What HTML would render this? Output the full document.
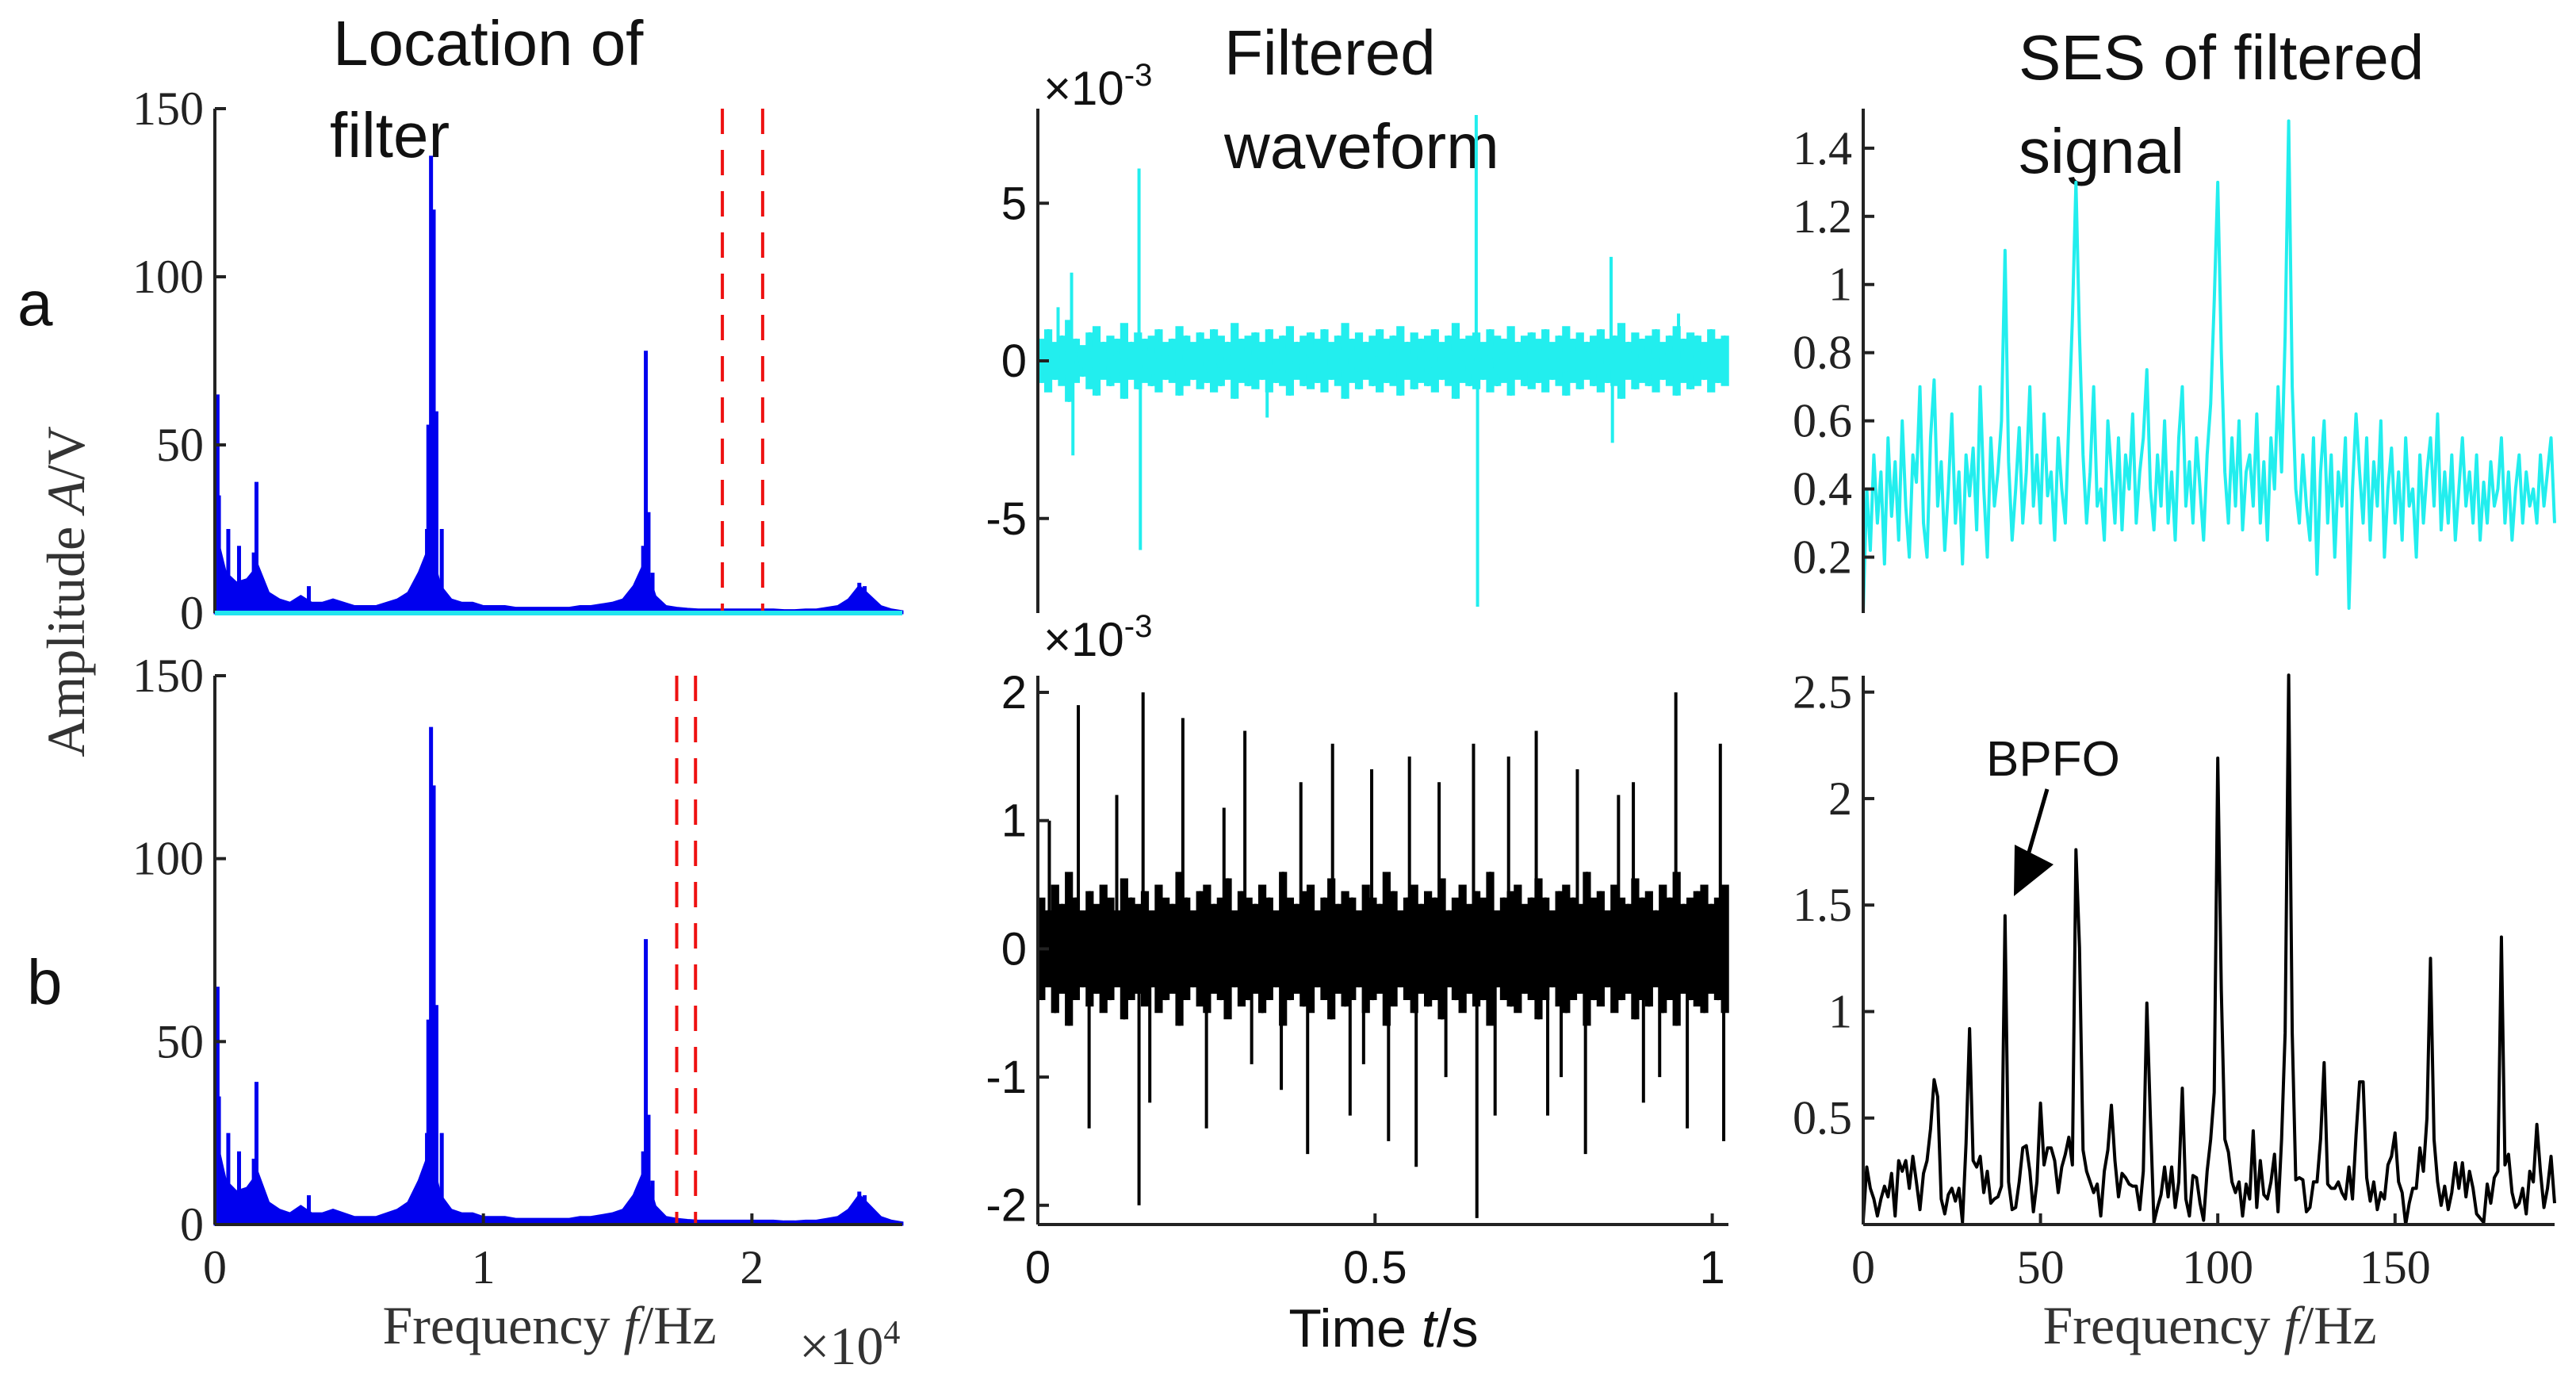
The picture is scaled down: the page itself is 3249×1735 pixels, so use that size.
<!DOCTYPE html>
<html><head><meta charset="utf-8"><style>
html,body{margin:0;padding:0;background:#fff;}
svg{display:block;}
.tk{font-family:"Liberation Serif",serif;font-size:60px;fill:#222;}
.sn{font-family:"Liberation Sans",sans-serif;fill:#111;}
.lb{font-family:"Liberation Serif",serif;font-size:68px;fill:#333;}
</style></head><body>
<svg id="fig" width="3249" height="1735" viewBox="0 0 3249 1735" xmlns="http://www.w3.org/2000/svg">
<text class="sn" x="420" y="82" font-size="80">Location of</text>
<text class="sn" x="416" y="198" font-size="80">filter</text>
<text class="sn" x="1544" y="94" font-size="80">Filtered</text>
<text class="sn" x="1544" y="212" font-size="80">waveform</text>
<text class="sn" x="2546" y="100" font-size="80">SES of filtered</text>
<text class="sn" x="2546" y="218" font-size="80">signal</text>
<text class="sn" x="22" y="410" font-size="80">a</text>
<text class="sn" x="34" y="1266" font-size="80">b</text>
<text class="lb" transform="translate(106,746) rotate(-90)" text-anchor="middle">Amplitude <tspan font-style="italic">A</tspan>/V</text>
<text class="lb" x="693" y="1694" text-anchor="middle">Frequency <tspan font-style="italic">f</tspan>/Hz</text>
<text class="lb" x="1008" y="1720">×10<tspan font-size="42" dy="-26">4</tspan></text>
<text class="sn" x="1745" y="1698" font-size="68" text-anchor="middle">Time <tspan font-style="italic">t</tspan>/s</text>
<text class="lb" x="2787" y="1694" text-anchor="middle">Frequency <tspan font-style="italic">f</tspan>/Hz</text>
<text class="sn" x="1316" y="132" font-size="60">×10<tspan font-size="40" dy="-24">-3</tspan></text>
<text class="sn" x="1316" y="827" font-size="60">×10<tspan font-size="40" dy="-24">-3</tspan></text>
<text class="sn" x="2505" y="978" font-size="62">BPFO</text>
</svg>
<script>
// ---- data ----
const specBaseFreq = [0,400,800,1200,1600,2000,2400,2800,3200,3600,4000,4400,4800,5200,5600,6000,6400,6800,7200,7600,8000,8400,8800,9200,9600,10000,10400,10800,11200,11600,12000,12400,12800,13200,13600,14000,14400,14800,15200,15600,16000,16400,16800,17200,17600,18000,18400,18800,19200,19600,20000,20400,20800,21200,21600,22000,22400,22800,23200,23600,24000,24400,24800,25200,25600];
const specBaseAmp = [25,12,9,10,14,6,4,3,5,3,3,4,3,2,2,2,3,4,6,12,20,8,4,3,3,2,2,2,1.5,1.5,1.5,1.5,1.5,1.5,2,2,2.5,3,4,8,15,5,2,1.5,1.2,1,1,1,1,1,1,1,1,0.8,0.8,1,1,1.5,2,4,8,5,2,1,0.5];
const specPeakFreq = [100,150,500,900,1450,1550,3500,7900,7950,8050,8150,8250,8450,15950,16050,16150,16300,24000,24200];
const specPeakAmp = [65,35,25,20,18,39,8,25,56,136,120,60,25,20,78,30,12,9,8];
const filterA = [18900,20400];
const filterB = [17200,17900];
const waveAEnv = [0.7,1.0,0.6,0.8,1.3,0.7,0.5,0.9,1.1,0.6,0.8,0.7,1.2,0.6,0.9,0.7,0.8,1.0,0.6,0.7,1.1,0.8,0.6,0.9,0.7,1.0,0.8,0.6,1.2,0.7,0.8,0.9,0.6,1.0,0.7,0.8,1.1,0.6,0.8,0.9,0.7,1.0,0.6,0.8,1.2,0.7,0.9,0.6,0.8,1.0,0.7,0.8,1.1,0.6,0.9,0.7,0.8,1.0,0.6,0.8,1.2,0.7,0.8,0.9,0.6,1.0,0.8,0.7,1.1,0.6,0.8,0.9,0.7,1.0,0.6,0.8,1.1,0.7,0.9,0.6,0.8,1.0,0.7,0.8,1.2,0.6,0.9,0.7,0.8,1.0,0.6,0.8,1.1,0.7,0.9,0.8,0.6,1.0,0.7,0.8];
const waveASpikeT = [0.03,0.05,0.052,0.15,0.152,0.34,0.65,0.652,0.85,0.852,0.95];
const waveASpikeV = [1.7,2.8,-3.0,6.1,-6.0,-1.8,7.8,-7.8,3.3,-2.6,1.5];
const waveBEnv = [0.4,0.3,0.5,0.35,0.6,0.4,0.3,0.45,0.35,0.5,0.4,0.3,0.55,0.4,0.35,0.45,0.3,0.5,0.4,0.35,0.6,0.4,0.3,0.45,0.5,0.35,0.4,0.55,0.3,0.45,0.4,0.35,0.5,0.4,0.3,0.6,0.4,0.35,0.45,0.5,0.3,0.4,0.55,0.35,0.45,0.4,0.3,0.5,0.4,0.35,0.6,0.45,0.3,0.4,0.5,0.35,0.45,0.4,0.55,0.3,0.4,0.5,0.35,0.45,0.4,0.6,0.3,0.4,0.45,0.5,0.35,0.4,0.55,0.4,0.3,0.45,0.5,0.4,0.35,0.6,0.4,0.45,0.3,0.5,0.4,0.35,0.55,0.4,0.45,0.3,0.5,0.4,0.6,0.35,0.4,0.45,0.5,0.35,0.4,0.5];
const waveBSpikeT = [0.017,0.06,0.076,0.117,0.15,0.156,0.166,0.215,0.25,0.276,0.307,0.317,0.361,0.39,0.4,0.437,0.463,0.483,0.495,0.52,0.551,0.561,0.595,0.605,0.646,0.651,0.678,0.698,0.739,0.756,0.776,0.8,0.812,0.861,0.883,0.898,0.922,0.946,0.963,1.012,1.017];
const waveBSpikeV = [1.0,1.9,-1.4,1.2,-2.0,2.0,-1.2,1.8,-1.4,1.1,1.7,-0.9,-1.1,1.3,-1.6,1.6,-1.3,-0.9,1.4,-1.5,1.5,-1.7,1.3,-1.0,1.6,-2.1,-1.3,1.5,1.7,-1.3,-1.0,1.4,-1.6,1.2,1.3,-1.2,-1.0,2.0,-1.4,1.6,-1.5];
const sesA = [0.04,0.40,0.22,0.50,0.30,0.45,0.18,0.55,0.32,0.48,0.25,0.60,0.35,0.20,0.50,0.42,0.70,0.30,0.20,0.55,0.72,0.35,0.48,0.22,0.40,0.62,0.30,0.45,0.18,0.50,0.38,0.52,0.28,0.70,0.40,0.20,0.55,0.35,0.45,0.60,1.10,0.48,0.25,0.40,0.58,0.30,0.45,0.70,0.35,0.50,0.30,0.62,0.38,0.45,0.25,0.55,0.40,0.30,0.60,0.90,1.30,0.85,0.50,0.30,0.45,0.70,0.35,0.40,0.25,0.60,0.45,0.30,0.55,0.28,0.50,0.40,0.62,0.30,0.45,0.55,0.75,0.40,0.28,0.50,0.35,0.60,0.30,0.45,0.25,0.55,0.70,0.35,0.48,0.30,0.55,0.40,0.25,0.50,0.65,0.95,1.30,0.80,0.45,0.30,0.55,0.35,0.60,0.28,0.45,0.50,0.35,0.62,0.30,0.48,0.25,0.55,0.40,0.70,0.45,0.85,1.48,0.70,0.40,0.30,0.50,0.35,0.25,0.55,0.15,0.45,0.60,0.30,0.50,0.20,0.45,0.35,0.55,0.05,0.40,0.62,0.45,0.30,0.55,0.25,0.48,0.35,0.60,0.20,0.40,0.52,0.30,0.45,0.25,0.55,0.35,0.40,0.20,0.50,0.30,0.45,0.55,0.35,0.62,0.28,0.45,0.30,0.50,0.25,0.40,0.55,0.35,0.45,0.30,0.50,0.25,0.42,0.30,0.48,0.35,0.40,0.55,0.30,0.45,0.25,0.40,0.50,0.30,0.45,0.35,0.40,0.30,0.50,0.35,0.45,0.55,0.30];
const sesB = [0.02,0.27,0.17,0.12,0.04,0.12,0.18,0.13,0.24,0.04,0.30,0.25,0.30,0.17,0.32,0.20,0.07,0.24,0.30,0.45,0.68,0.60,0.12,0.05,0.14,0.17,0.11,0.17,0.01,0.38,0.92,0.30,0.27,0.32,0.15,0.25,0.10,0.12,0.13,0.18,1.45,0.20,0.07,0.08,0.20,0.36,0.37,0.25,0.06,0.20,0.57,0.28,0.36,0.36,0.30,0.15,0.27,0.33,0.41,0.28,1.76,1.30,0.35,0.25,0.20,0.15,0.19,0.04,0.25,0.35,0.56,0.30,0.13,0.24,0.22,0.19,0.18,0.18,0.07,0.25,1.04,0.50,0.01,0.08,0.14,0.27,0.13,0.27,0.08,0.20,0.64,0.12,0.04,0.23,0.22,0.10,0.02,0.25,0.40,0.62,2.19,1.10,0.40,0.34,0.20,0.15,0.20,0.04,0.19,0.12,0.44,0.08,0.30,0.14,0.12,0.20,0.33,0.06,0.40,0.90,2.58,0.90,0.21,0.22,0.21,0.06,0.08,0.20,0.20,0.40,0.76,0.19,0.17,0.17,0.20,0.15,0.12,0.27,0.12,0.42,0.67,0.67,0.22,0.11,0.20,0.07,0.15,0.12,0.28,0.32,0.43,0.20,0.15,0.00,0.10,0.17,0.17,0.36,0.25,0.50,1.25,0.40,0.20,0.09,0.18,0.07,0.15,0.29,0.17,0.29,0.13,0.25,0.17,0.05,0.03,0.01,0.19,0.10,0.22,0.25,1.35,0.28,0.33,0.15,0.08,0.10,0.17,0.05,0.25,0.20,0.47,0.25,0.08,0.17,0.32,0.10];
const ticksSpecY = [0,50,100,150];
const ticksSpecX = [0,1,2];
const ticksWaveAY = [-5,0,5];
const ticksWaveBY = [-2,-1,0,1,2];
const ticksWaveX = [0,0.5,1];
const ticksSesAY = [0.2,0.4,0.6,0.8,1,1.2,1.4];
const ticksSesBY = [0.5,1,1.5,2,2.5];
const ticksSesX = [0,50,100,150];

// ---- helpers ----
const NS = "http://www.w3.org/2000/svg";
const fig = document.getElementById('fig');
function mk(tag, attrs, parent){
  const e = document.createElementNS(NS, tag);
  for (const k in attrs) e.setAttribute(k, attrs[k]);
  (parent||fig).appendChild(e);
  return e;
}
function scale(d0,d1,r0,r1){ return v => r0 + (v-d0)/(d1-d0)*(r1-r0); }

const L1=271, R1=1138, L2=1309, R2=2180, L3=2350, R3=3222;
const TA=137, BA=773, TB=852, BB=1544;

function yAxis(x, ys, ticks, top, bot, fmt, name){
  const g = mk('g', {});
  
  
  const ln = mk('line', {x1:x,y1:top,x2:x,y2:bot,stroke:'#222','stroke-width':4}, g);
  
  
  ticks.forEach(t=>{
    const y = ys(t);
    const tl = mk('line', {x1:x,y1:y,x2:x+14,y2:y,stroke:'#222','stroke-width':4}, g);
    
    
    const tx = mk('text', {x:x-14,y:y+20,'text-anchor':'end',class:fmt}, g);
    
    
    if (fmt==='sn') tx.setAttribute('font-size','58');
    tx.textContent = String(t);
  });
}
function xAxis(y, xs, ticks, left, right, fmt, name, labels){
  const g = mk('g', {});
  
  
  const ln = mk('line', {x1:left,y1:y,x2:right,y2:y,stroke:'#222','stroke-width':4}, g);
  
  
  ticks.forEach((t,i)=>{
    const x = xs(t);
    const tl = mk('line', {x1:x,y1:y,x2:x,y2:y-14,stroke:'#222','stroke-width':4}, g);
    
    
    if (labels){
      const tx = mk('text', {x:x,y:y+74,'text-anchor':'middle',class:fmt}, g);
      
      
      if (fmt==='sn') tx.setAttribute('font-size','58');
      tx.textContent = String(t);
    }
  });
}

// ---- spectrum panels ----
function spectrum(top, bot, filt, name){
  const xs = scale(0,25600,L1,R1), ys = scale(0,150,bot,top);
  let pts = xs(0)+','+ys(0)+' ';
  specBaseFreq.forEach((f,i)=>{ pts += xs(f)+','+ys(specBaseAmp[i])+' '; });
  pts += xs(25600)+','+ys(0);
  const area = mk('polygon', {points:pts, fill:'#0000ee', stroke:'#0000ee','stroke-width':3});
  
  
  specPeakFreq.forEach((f,i)=>{
    const p = mk('line', {x1:xs(f),y1:ys(0),x2:xs(f),y2:ys(specPeakAmp[i]),stroke:'#0000ee','stroke-width':5});
    
    
  });
  filt.forEach(f=>{
    const d = mk('line', {x1:xs(f),y1:top,x2:xs(f),y2:bot,stroke:'#ee1111','stroke-width':4,'stroke-dasharray':'32,20'});
    
    
  });
  yAxis(L1, ys, ticksSpecY, top, bot, 'tk', name+'-y-axis');
  return xs;
}
spectrum(TA, BA, filterA, 'a1');
const cy = mk('line', {x1:L1,y1:BA,x2:R1,y2:BA,stroke:'#22e5ee','stroke-width':6});


spectrum(TB, BB, filterB, 'b1');
xAxis(BB, v=>scale(0,25600,L1,R1)(v*10000), ticksSpecX, L1, R1, 'tk', 'b1-x-axis', true);

// ---- waveform panels ----
function waveform(top, bot, lim, env, spT, spV, color, name, ticks){
  const xs = scale(0,1.024,L2,R2), ys = scale(-lim[0],lim[1],bot,top);
  const step = 1.024/env.length;
  env.forEach((v,i)=>{
    const t = (i+0.5)*step;
    const l = mk('line', {x1:xs(t),y1:ys(-v),x2:xs(t),y2:ys(v),stroke:color,'stroke-width':(R2-L2)/env.length+1.5});
    
    
  });
  let pts='';
  env.forEach((v,i)=>{ const t=(i+0.5)*step; pts += xs(t)+','+ys(i%2?v:-v)+' '; });
  const pl = mk('polyline', {points:pts, fill:'none', stroke:color,'stroke-width':3});
  
  
  spT.forEach((t,i)=>{
    const s = mk('line', {x1:xs(t),y1:ys(0),x2:xs(t),y2:ys(spV[i]),stroke:color,'stroke-width':4});
    
    
  });
  yAxis(L2, ys, ticks, top, bot, 'sn', name+'-y-axis');
  return xs;
}
waveform(TA, BA, [8,8], waveAEnv, waveASpikeT, waveASpikeV, '#22eeee', 'a2', ticksWaveAY);
const xsW = waveform(TB, BB, [2.15,2.13], waveBEnv, waveBSpikeT, waveBSpikeV, '#000', 'b2', ticksWaveBY);
xAxis(BB, xsW, ticksWaveX, L2, R2, 'sn', 'b2-x-axis', true);

// ---- SES panels ----
function ses(top, bot, lim, vals, color, name, ticks){
  const xs = scale(0,195,L3,R3), ys = scale(lim[0],lim[1],bot,top);
  let pts='';
  vals.forEach((v,i)=>{ pts += xs(i)+','+ys(v)+' '; });
  const pl = mk('polyline', {points:pts, fill:'none', stroke:color,'stroke-width':4,'stroke-linejoin':'round'});
  
  
  yAxis(L3, ys, ticks, top, bot, 'tk', name+'-y-axis');
  return xs;
}
ses(TA, BA, [0.036,1.516], sesA, '#22eeee', 'a3', ticksSesAY);
const xsS = ses(TB, BB, [0,2.577], sesB, '#000', 'b3', ticksSesBY);
xAxis(BB, xsS, ticksSesX, L3, R3, 'tk', 'b3-x-axis', true);

// BPFO arrow
const ar = mk('line', {x1:2582,y1:995,x2:2556,y2:1085,stroke:'#000','stroke-width':5});


const ah = mk('polygon', {points:'2540,1130 2541,1065 2590,1090', fill:'#000'});


</script>
</body></html>
